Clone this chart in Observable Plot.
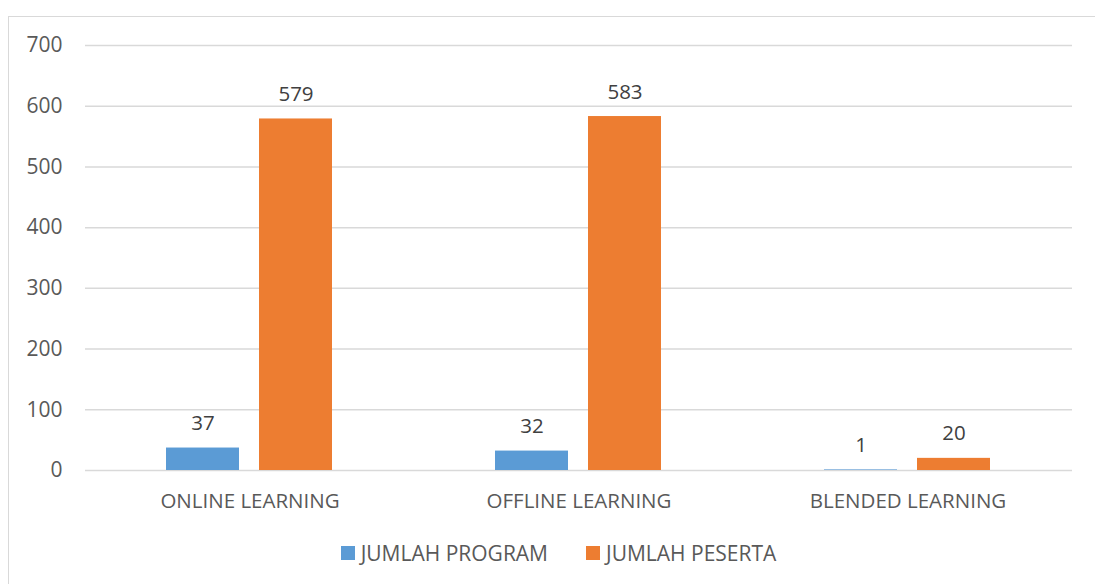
<!DOCTYPE html>
<html>
<head>
<meta charset="utf-8">
<script src="https://cdn.jsdelivr.net/npm/d3@7"></script>
<script src="https://cdn.jsdelivr.net/npm/@observablehq/plot@0.6"></script>
<style>
  html, body { margin: 0; padding: 0; background: #fff; }
  body { width: 1095px; height: 584px; position: relative; overflow: hidden; font-family: "Open Sans", sans-serif; }
  #frame { position: absolute; left: 8px; top: 16px; width: 1200px; height: 700px; border-left: 1.5px solid #d9d9d9; border-top: 1.5px solid #d9d9d9; }
  #chart { position: absolute; left: 0; top: 0; }
  #legend { position: absolute; left: 11px; top: 539px; width: 1095px; display: flex; justify-content: center; gap: 38px; color: #595959; font-size: 21px; line-height: 28px; }
  #legend .item { display: flex; align-items: center; gap: 6px; }
  #legend .sw { width: 14px; height: 14px; display: inline-block; }
</style>
</head>
<body>
<div id="frame"></div>
<div id="chart"></div>
<div id="legend"></div>
<script>
const categories = ["ONLINE LEARNING", "OFFLINE LEARNING", "BLENDED LEARNING"];
const seriesNames = ["JUMLAH PROGRAM", "JUMLAH PESERTA"];
const programValues = [37, 32, 1];
const pesertaValues = [579, 583, 20];
const seriesColors = ["#5B9BD5", "#ED7D31"];
const yTicks = [0, 100, 200, 300, 400, 500, 600, 700];

const data = [];
categories.forEach((c, i) => {
  data.push({category: c, series: seriesNames[0], value: programValues[i]});
  data.push({category: c, series: seriesNames[1], value: pesertaValues[i]});
});

const chart = Plot.plot({
  width: 1095,
  height: 520,
  marginLeft: 84,
  marginRight: 22,
  marginTop: 45,
  marginBottom: 50,
  style: {fontFamily: "Open Sans, sans-serif", fontSize: "20px", color: "#595959", background: "transparent"},
  fx: {domain: categories, padding: 0, label: null},
  x: {domain: seriesNames, paddingInner: 0.2128, paddingOuter: 0.8617, axis: null},
  y: {domain: [0, 700], ticks: yTicks, label: null},
  color: {domain: seriesNames, range: seriesColors},
  marks: [
    Plot.gridY(yTicks, {stroke: "#d9d9d9", strokeOpacity: 1, strokeWidth: 1.5}),
    Plot.axisY(yTicks, {tickSize: 0, tickPadding: 23, fontSize: 21, fill: "#595959", label: null}),
    Plot.axisFx({anchor: "bottom", tickSize: 0, tickPadding: 23, fontSize: 20.5, fill: "#595959", label: null}),
    Plot.barY(data, {fx: "category", x: "series", y: "value", fill: "series"}),
    Plot.text(data, {fx: "category", x: "series", y: "value", text: d => String(d.value), lineAnchor: "bottom", dy: -18, fontSize: 20.5, fill: "#404040"})
  ]
});
document.getElementById("chart").appendChild(chart);

const legend = document.getElementById("legend");
seriesNames.forEach((s, i) => {
  const item = document.createElement("div");
  item.className = "item";
  const sw = document.createElement("span");
  sw.className = "sw";
  sw.style.background = seriesColors[i];
  const t = document.createElement("span");
  t.textContent = s;
  item.appendChild(sw);
  item.appendChild(t);
  legend.appendChild(item);
});
</script>
</body>
</html>
